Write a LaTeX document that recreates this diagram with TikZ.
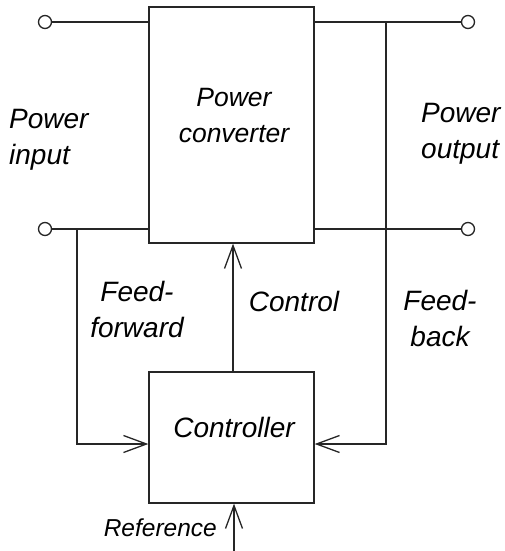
\documentclass[tikz,border=0pt]{standalone}
\usepackage{fontspec}
\setmainfont{Liberation Sans}
\usetikzlibrary{arrows.meta}
\begin{document}
\begin{tikzpicture}[x=1pt,y=-1pt,
  wire/.style={line width=1.3pt,draw=black!85},
  arr/.style={wire,-{Straight Barb[length=23pt,width=17pt,line width=1.3pt]}},
  term/.style={circle,draw=black!85,line width=1.3pt,fill=white,inner sep=0pt,minimum size=13pt},
  blk/.style={draw=black!85,line width=1.3pt,inner sep=0pt},
  lbl/.style={font=\fontsize{28}{36}\selectfont\itshape,inner sep=0pt,align=center},
  lbll/.style={lbl,align=left,anchor=west},
]
\path[use as bounding box] (0,0) rectangle (504,551);
% blocks
\node[blk,minimum width=165pt,minimum height=236pt] (conv) at (231.5,125) {};
\node[blk,minimum width=165pt,minimum height=131pt] (ctrl) at (231.5,437.5) {};
% terminals
\node[term] (tin1) at (45,22) {};
\node[term] (tin2) at (45,229) {};
\node[term] (tout1) at (468,22) {};
\node[term] (tout2) at (468,229) {};
% junctions and free ends
\coordinate (ffj) at (77,229);
\coordinate (fbj) at (386,22);
\coordinate (refs) at (234,551);
% wires
\draw[wire] (tin1) -- (conv.west |- tin1);
\draw[wire] (tin2) -- (conv.west |- tin2);
\draw[wire] (conv.east |- tout1) -- (tout1);
\draw[wire] (conv.east |- tout2) -- (tout2);
\draw[arr] (ffj) |- ([yshift=-6.5pt]ctrl.west);
\draw[arr] (fbj) |- ([yshift=-6.5pt]ctrl.east);
\draw[arr] (ctrl.north -| 233,0) -- (conv.south -| 233,0);
\draw[arr] (refs) -- (ctrl.south -| refs);
% labels
\node[lbl,font=\fontsize{26.5}{36}\selectfont\itshape] (tconv) at (234,116) {Power\\converter};
\node[lbl] (tctrl) at (234,427) {Controller};
\node[lbll] (tin) at (9,140) {Power\\input};
\node[lbll] (tout) at (421,134) {Power\\output};
\node[lbl] (tff) at (137,309) {Feed-\\forward};
\node[lbl] (tcontrol) at (294,301) {Control};
\node[lbl] (tfb) at (440,318) {Feed-\\back};
\node[lbl,font=\fontsize{24.5}{30}\selectfont\itshape,anchor=east] (tref) at (217,528) {Reference};
\end{tikzpicture}
\end{document}
